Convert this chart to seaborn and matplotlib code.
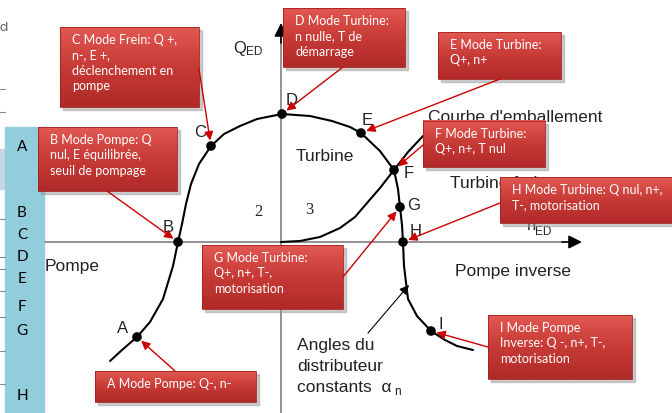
import numpy as np
import seaborn as sns
import matplotlib.pyplot as plt
from matplotlib.colors import LinearSegmentedColormap
from matplotlib.patches import Rectangle

# ------------------------------------------------------------
# data (diagram, pixel units, y downwards)
# ------------------------------------------------------------
curve_x = [110, 122, 137, 150, 163, 173, 178, 182, 186, 191, 199, 211, 224, 240,
           257, 282, 310, 332, 350, 361, 380, 394, 398, 400, 402, 403, 404, 408,
           417, 431, 445, 457, 473]
curve_y = [362, 351, 338, 323, 300, 267, 243, 225, 205, 185, 165, 147, 135, 127,
           120, 115, 117, 122, 128, 134, 152, 171, 190, 208, 226, 243, 267, 300,
           317, 332, 341, 347, 351]

runaway_x = [281, 300, 320, 340, 355, 367, 380, 394, 408, 423]
runaway_y = [243, 242, 238, 229, 218, 204, 189, 171, 153, 137]

point_labels = ["A", "B", "C", "D", "E", "F", "G", "H", "I"]
point_x = [137, 178, 211, 282, 361, 394, 400, 403, 431]
point_y = [338, 243, 147, 115, 134, 171, 208, 243, 332]

mode_texts = {
    "A": "A Mode Pompe: Q-, n-",
    "B": "B Mode Pompe: Q\nnul, E équilibrée,\nseuil de pompage",
    "C": "C Mode Frein: Q +,\nn-, E +,\ndéclenchement en\npompe",
    "D": "D Mode Turbine:\nn nulle, T de\ndémarrage",
    "E": "E Mode Turbine:\nQ+, n+",
    "F": "F Mode Turbine:\nQ+, n+, T nul",
    "G": "G Mode Turbine:\nQ+, n+, T-,\nmotorisation",
    "H": "H Mode Turbine: Q nul, n+,\nT-, motorisation",
    "I": "I Mode Pompe\nInverse: Q -, n+, T-,\nmotorisation",
}

sidebar_letters = ["A", "B", "C", "D", "E", "F", "G", "H"]
sidebar_y = [147, 213, 235, 257, 279, 307, 331, 396]

angle_lines = ["Angles du", "distributeur", "constants  α"]

# ------------------------------------------------------------
# layout
# ------------------------------------------------------------
# box: x0, y0, x1, y1, arrow start (x, y)
boxes = {
    "A": (95, 372, 256, 403, (175, 372)),
    "B": (38, 128, 177, 192, (107, 192)),
    "C": (60, 28, 199, 108, (199, 70)),
    "D": (283, 9, 405, 68, (343, 68)),
    "E": (438, 33, 561, 80, (500, 80)),
    "F": (423, 122, 545, 168, (423, 146)),
    "G": (202, 246, 343, 310, (343, 278)),
    "H": (500, 178, 690, 224, (500, 204)),
    "I": (488, 316, 632, 380, (488, 348)),
}
label_offsets = {"A": (-14, -9), "B": (-10, -15), "C": (-11, -14), "D": (10, -14),
                 "E": (6, -13), "F": (15, 3), "G": (14, -2), "H": (13, -11),
                 "I": (10, -7)}

sns.set_theme(style="white")
plt.rcParams["font.family"] = ["Liberation Sans", "DejaVu Sans"]

fig = plt.figure(figsize=(6.72, 4.14), dpi=100)
ax = fig.add_axes([0, 0, 1, 1])
ax.set_xlim(0, 672)
ax.set_ylim(414, 0)
ax.axis("off")

# spreadsheet leftovers on the far left
for yy in [90, 113, 220, 258, 270, 292, 318, 352, 385]:
    ax.plot([0, 5], [yy, yy], color="#888888", lw=0.8)
ax.add_patch(Rectangle((0, 150), 5, 40, color="#c9d4e8", zorder=0))
ax.text(0, 28, "cl", fontsize=9, color="#555555", va="center")

# sidebar
ax.add_patch(Rectangle((5, 128), 39, 290, color="#92cddc", zorder=1))
for letter, yy in zip(sidebar_letters, sidebar_y):
    ax.text(22, yy, letter, fontsize=11, family="Lato", ha="center", va="center",
            color="black", zorder=2)

# axes of the diagram: gray lines, black arrow heads
ax.plot([45, 565], [243, 243], color="#808080", lw=1.2, zorder=2)
ax.plot([281, 281], [40, 414], color="#808080", lw=1.2, zorder=2)
ax.annotate("", xy=(582, 243), xytext=(562, 243),
            arrowprops=dict(arrowstyle="-|>", color="black", lw=1.2,
                            mutation_scale=20, shrinkA=0, shrinkB=0), zorder=2)
ax.annotate("", xy=(281, 24), xytext=(281, 44),
            arrowprops=dict(arrowstyle="-|>", color="black", lw=1.2,
                            mutation_scale=20, shrinkA=0, shrinkB=0), zorder=2)
ax.text(233, 48, "Q", fontsize=12, va="center")
ax.text(246, 52, "ED", fontsize=8.5, va="center")
ax.text(527, 226, "n", fontsize=12, va="center")
ax.text(535, 232, "ED", fontsize=8.5, va="center")

# curves and points
sns.lineplot(x=curve_x, y=curve_y, sort=False, estimator=None, color="black",
             lw=1.5, ax=ax)
sns.lineplot(x=runaway_x, y=runaway_y, sort=False, estimator=None, color="black",
             lw=1.5, ax=ax)
sns.scatterplot(x=point_x, y=point_y, s=48, color="black", edgecolor="none",
                ax=ax, zorder=5)
for lab, px, py in zip(point_labels, point_x, point_y):
    dx, dy = label_offsets[lab]
    ax.text(px + dx, py + dy, lab, fontsize=12, ha="center", va="center", color="#222222")

# region labels
ax.text(325, 157, "Turbine", fontsize=12.5, ha="center", va="center", color="#222222")
ax.text(45, 267, "Pompe", fontsize=12.5, ha="left", va="center", color="#222222")
ax.text(455, 272, "Pompe inverse", fontsize=12.5, ha="left", va="center", color="#222222")
ax.text(428, 118, "Courbe d'emballement", fontsize=12.5, ha="left", va="center", color="#222222")
ax.text(450, 184, "Turbine freinage", fontsize=12.5, ha="left", va="center", color="#222222")
ax.text(258, 212, "2", fontsize=12, family="Liberation Serif", ha="center", va="center")
ax.text(309, 210, "3", fontsize=12, family="Liberation Serif", ha="center", va="center")
for k, line in enumerate(angle_lines):
    ax.text(297, 346 + 21 * k, line, fontsize=12.5, ha="left", va="center", color="#222222")
ax.text(394, 392, "n", fontsize=8.5, ha="left", va="center", color="#222222")
ax.annotate("", xy=(409, 286), xytext=(368, 334),
            arrowprops=dict(arrowstyle="-|>", color="black", lw=0.8,
                            mutation_scale=14, shrinkA=0, shrinkB=0))

# red callout boxes
cmap = LinearSegmentedColormap.from_list("redbox", ["#e25852", "#c73a36", "#b02a28"])
grad = np.linspace(0, 1, 64).reshape(-1, 1)
for lab, (x0, y0, x1, y1, start) in boxes.items():
    ax.add_patch(Rectangle((x0 + 3, y0 + 3), x1 - x0, y1 - y0, color="#999999",
                           alpha=0.5, zorder=6))
    ax.imshow(grad, cmap=cmap, extent=(x0, x1, y1, y0), aspect="auto", zorder=7)
    ax.add_patch(Rectangle((x0, y0), x1 - x0, y1 - y0, fill=False,
                           edgecolor="#a52020", lw=0.6, zorder=8))
    ax.text(x0 + 12, y0 + 6, mode_texts[lab], fontsize=9, family="Lato", color="white",
            ha="left", va="top", linespacing=1.35, zorder=9)
    i = point_labels.index(lab)
    ax.annotate("", xy=(point_x[i], point_y[i]), xytext=start,
                arrowprops=dict(arrowstyle="-|>", color="#cc0000", lw=1.0,
                                mutation_scale=13, shrinkA=0, shrinkB=4), zorder=10)

ax.set_xlim(0, 672)
ax.set_ylim(414, 0)
fig.savefig("out.png", dpi=100)
